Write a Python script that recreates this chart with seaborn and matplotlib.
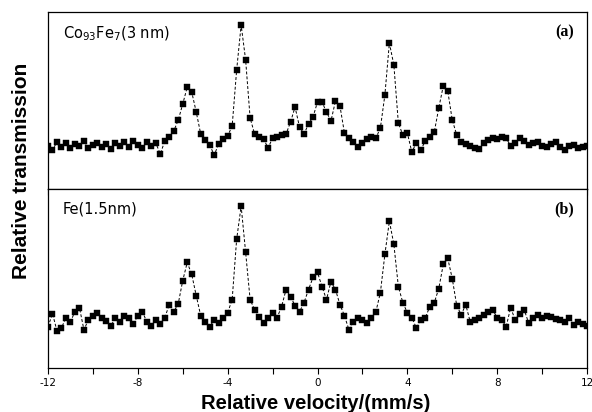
import numpy as np
import pandas as pd
import matplotlib
matplotlib.use("Agg")
import matplotlib.pyplot as plt
import seaborn as sns

velocity = [round(-12.0 + 0.2 * i, 1) for i in range(121)]

trans_a = [
    -0.1, -0.5, 0.3, -0.2, 0.2, -0.3, 0.1, -0.1, 0.4, -0.3,
    0.0, 0.2, -0.2, 0.1, -0.4, 0.2, -0.1, 0.3, -0.2, 0.4,
    0.0, -0.3, 0.3, -0.1, 0.2, -0.9, 0.4, 0.8, 1.4, 2.5,
    4.1, 5.8, 5.3, 3.3, 1.1, 0.5, 0.0, -1.0, 0.1, 0.6,
    0.9, 1.9, 7.5, 12.0, 8.5, 2.7, 1.1, 0.8, 0.6, -0.3,
    0.7, 0.8, 1.0, 1.1, 2.3, 3.8, 1.8, 1.1, 2.1, 2.8,
    4.3, 4.3, 3.3, 2.4, 4.4, 3.9, 1.2, 0.7, 0.3, -0.2,
    0.2, 0.6, 0.8, 0.7, 1.7, 5.0, 10.2, 8.0, 2.2, 1.0,
    1.2, -0.7, 0.2, -0.5, 0.4, 0.8, 1.3, 3.7, 5.9, 5.4,
    2.5, 1.0, 0.3, 0.1, -0.1, -0.3, -0.4, 0.2, 0.5, 0.7,
    0.6, 0.8, 0.7, -0.1, 0.2, 0.7, 0.4, 0.0, 0.2, 0.3,
    -0.1, -0.2, 0.1, 0.3, -0.2, -0.5, -0.1, 0.0, -0.3, -0.2,
    -0.1,
]

trans_b = [
    -0.7, 0.6, -1.1, -0.8, 0.2, -0.2, 0.8, 1.2, -1.0, 0.0,
    0.4, 0.7, 0.2, -0.1, -0.6, 0.2, -0.2, 0.4, 0.2, -0.4,
    0.4, 0.8, -0.2, -0.6, 0.0, -0.4, 0.2, 1.5, 0.8, 1.6,
    3.9, 5.7, 4.5, 2.4, 0.4, -0.2, -0.7, 0.0, -0.3, 0.2,
    0.7, 2.0, 8.0, 11.3, 6.7, 2.0, 1.0, 0.3, -0.3, 0.2,
    0.7, 0.2, 1.3, 3.0, 2.3, 1.4, 0.8, 1.7, 3.0, 4.2,
    4.7, 3.3, 2.0, 3.8, 3.0, 1.5, 0.4, -1.0, -0.2, 0.2,
    0.0, -0.3, 0.2, 0.8, 2.7, 6.5, 9.8, 7.5, 3.3, 1.7,
    0.7, 0.2, -0.8, 0.0, 0.2, 1.3, 1.7, 3.1, 5.5, 6.1,
    4.1, 1.4, 0.5, 1.5, -0.2, 0.0, 0.2, 0.5, 0.8, 1.0,
    0.2, 0.0, -0.7, 1.2, 0.0, 0.6, 1.0, -0.3, 0.2, 0.5,
    0.2, 0.4, 0.3, 0.1, 0.0, -0.2, 0.2, -0.5, -0.2, -0.4,
    -0.6,
]

sample_labels = ["Co$_{93}$Fe$_{7}$(3 nm)", "Fe(1.5nm)"]
panel_tags = ["(a)", "(b)"]
xticks_major = [-12, -8, -4, 0, 4, 8, 12]
xticks_minor = [-10, -6, -2, 2, 6, 10]

sns.set_style("white")
plt.rcParams["font.family"] = ["DejaVu Sans"]
plt.rcParams["text.color"] = "black"
plt.rcParams["xtick.color"] = "black"

fig = plt.figure(figsize=(5.92, 4.12), dpi=100)
ax_a = fig.add_axes([48 / 592, 1 - 189 / 412, 539 / 592, 177 / 412])
ax_b = fig.add_axes([48 / 592, 1 - 368 / 412, 539 / 592, 179 / 412])

datasets = [trans_a, trans_b]
ylims = [(-4.4, 13.3), (-4.8, 13.0)]

for ax, vals, lab, tag, yl in zip([ax_a, ax_b], datasets, sample_labels, panel_tags, ylims):
    df = pd.DataFrame({"v": velocity, "t": vals})
    sns.lineplot(data=df, x="v", y="t", ax=ax, color="black", linewidth=0.7,
                 linestyle=(0, (3, 2)), sort=True, legend=False)
    sns.scatterplot(data=df, x="v", y="t", ax=ax, marker="s", s=24, color="black",
                    edgecolor="black", linewidth=0.3, legend=False, zorder=3)
    ax.set_xlim(-12, 12)
    ax.set_ylim(*yl)
    ax.set_yticks([])
    ax.set_xticks(xticks_major)
    ax.set_xticks(xticks_minor, minor=True)
    ax.tick_params(axis="x", which="both", direction="out", length=4, width=0.8,
                   color="black", labelcolor="black", labelsize=7.5, pad=3, bottom=True)
    ax.set_xlabel("")
    ax.set_ylabel("")
    for sp in ax.spines.values():
        sp.set_color("black")
        sp.set_linewidth(0.9)
        sp.set_visible(True)
    ax.text(0.027, 0.93, lab, transform=ax.transAxes, fontsize=10.5,
            ha="left", va="top", color="black")
    ax.text(0.975, 0.93, tag, transform=ax.transAxes, fontsize=11.5, fontweight="bold",
            family="Liberation Serif", ha="right", va="top", color="black")

ax_a.tick_params(axis="x", labelbottom=False)
ax_b.set_xticklabels([str(t) for t in xticks_major])

fig.text(0.036, 0.585, "Relative transmission", rotation=90, fontsize=15,
         fontweight="bold", ha="center", va="center", family="Liberation Sans",
         color="black")
fig.text(0.534, 0.02, "Relative velocity/(mm/s)", fontsize=14.5,
         fontweight="bold", ha="center", va="center", family="Liberation Sans",
         color="black")

fig.savefig("out.png", dpi=100)
